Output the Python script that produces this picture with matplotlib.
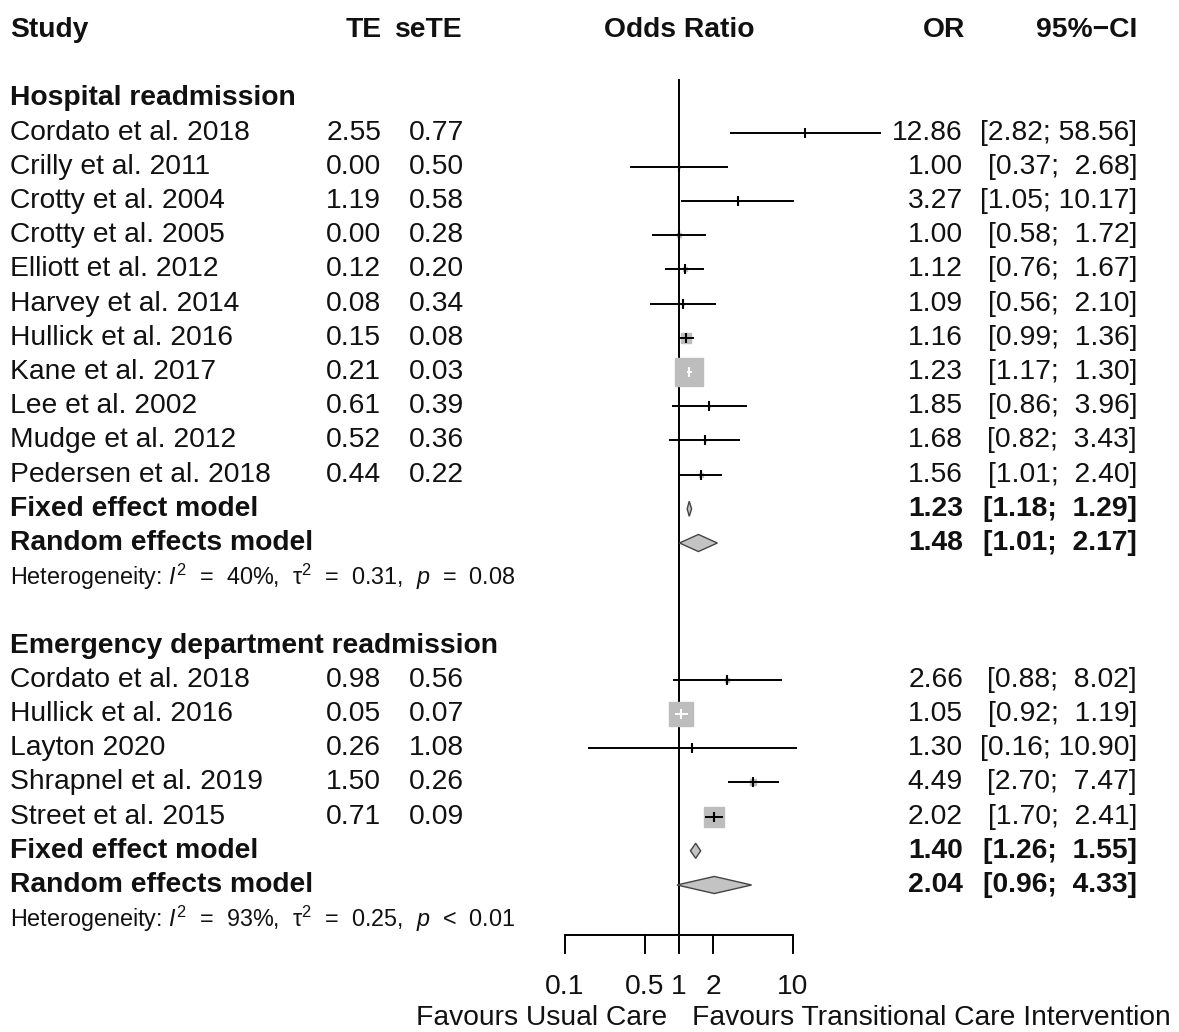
import numpy as np
import matplotlib.pyplot as plt
from matplotlib.transforms import blended_transform_factory
from matplotlib.patches import Polygon

plt.rcParams['font.family'] = ['Liberation Sans', 'DejaVu Sans']
plt.rcParams['mathtext.fontset'] = 'custom'
plt.rcParams['mathtext.rm'] = 'Liberation Sans'
plt.rcParams['mathtext.it'] = 'Liberation Sans:italic'

# ---- data ----
group_names = ["Hospital readmission", "Emergency department readmission"]

hosp_studies = ["Cordato et al. 2018", "Crilly et al. 2011", "Crotty et al. 2004",
                "Crotty et al. 2005", "Elliott et al. 2012", "Harvey et al. 2014",
                "Hullick et al. 2016", "Kane et al. 2017", "Lee et al. 2002",
                "Mudge et al. 2012", "Pedersen et al. 2018"]
hosp_te = [2.55, 0.00, 1.19, 0.00, 0.12, 0.08, 0.15, 0.21, 0.61, 0.52, 0.44]
hosp_se = [0.77, 0.50, 0.58, 0.28, 0.20, 0.34, 0.08, 0.03, 0.39, 0.36, 0.22]
hosp_or = [12.86, 1.00, 3.27, 1.00, 1.12, 1.09, 1.16, 1.23, 1.85, 1.68, 1.56]
hosp_lo = [2.82, 0.37, 1.05, 0.58, 0.76, 0.56, 0.99, 1.17, 0.86, 0.82, 1.01]
hosp_hi = [58.56, 2.68, 10.17, 1.72, 1.67, 2.10, 1.36, 1.30, 3.96, 3.43, 2.40]
hosp_fixed = [1.23, 1.18, 1.29]
hosp_random = [1.48, 1.01, 2.17]
hosp_het = ["40%", "0.31", "=", "0.08"]

ed_studies = ["Cordato et al. 2018", "Hullick et al. 2016", "Layton 2020",
              "Shrapnel et al. 2019", "Street et al. 2015"]
ed_te = [0.98, 0.05, 0.26, 1.50, 0.71]
ed_se = [0.56, 0.07, 1.08, 0.26, 0.09]
ed_or = [2.66, 1.05, 1.30, 4.49, 2.02]
ed_lo = [0.88, 0.92, 0.16, 2.70, 1.70]
ed_hi = [8.02, 1.19, 10.90, 7.47, 2.41]
ed_fixed = [1.40, 1.26, 1.55]
ed_random = [2.04, 0.96, 4.33]
ed_het = ["93%", "0.25", "<", "0.01"]

axis_ticks = [0.1, 0.5, 1, 2, 10]
axis_ticklabels = ["0.1", "0.5", "1", "2", "10"]
label_left = "Favours Usual Care"
label_right = "Favours Transitional Care Intervention"

# ---- layout ----
W, H = 1179, 1032
ROW0, ROWH = 30, 34.2          # pixel y of header row, row height
FS, FS_HET = 20.3, 16.8
PX_PER_DEC = 114
col_study, col_te, col_se, col_or, col_ci = 10, 381, 464, 963, 1137

fig = plt.figure(figsize=(W / 100, H / 100), dpi=100)
ax = fig.add_axes([565 / W, 0, 228 / W, 1])
ax.set_xscale('log')
ax.set_xlim(0.1, 10)
ax.set_ylim((H - ROW0) / ROWH, -ROW0 / ROWH)
ax.axis('off')
tr = blended_transform_factory(fig.transFigure, ax.transData)


def txt(x, row, s, ha='left', bold=False, size=FS):
    ax.text(x / W, row, s, transform=tr, ha=ha, va='center', fontsize=size,
            fontweight='bold' if bold else 'normal', color='#111111')


def ci_text(lo, hi):
    return f"[{lo:.2f}; {hi:5.2f}]"


def diamond(est, lo, hi, row, h):
    poly = Polygon([(lo, row), (est, row - h), (hi, row), (est, row + h)],
                   closed=True, facecolor='#c3c3c3', edgecolor='#444444',
                   lw=1.0, clip_on=False, zorder=3)
    ax.add_patch(poly)


def draw_group(row, name, studies, te, se, ors, lo, hi, fixed, random, het):
    txt(col_study, row, name, bold=True)
    w = 1 / np.array(se) ** 2
    frac = w / w.sum()
    for i, s in enumerate(studies):
        r = row + 1 + i
        txt(col_study, r, s)
        txt(col_te, r, f"{te[i]:.2f}", ha='right')
        txt(col_se, r, f"{se[i]:.2f}", ha='right')
        txt(col_or, r, f"{ors[i]:.2f}", ha='right')
        txt(col_ci, r, ci_text(lo[i], hi[i]), ha='right')
        side = 32 * np.sqrt(frac[i])
        ci_px = PX_PER_DEC * (np.log10(hi[i]) - np.log10(lo[i]))
        inner = 'white' if ci_px < 0.8 * side else 'black'
        ax.plot(ors[i], r, marker='s', ms=side * 0.72, color='#bdbdbd',
                mec='#bdbdbd', clip_on=False, zorder=2)
        ax.plot([lo[i], hi[i]], [r, r], color=inner, lw=1.4,
                solid_capstyle='butt', clip_on=False, zorder=3)
        ax.plot(ors[i], r, marker='|', ms=6.5, mew=1.5, color=inner,
                clip_on=False, zorder=4)
    r = row + 1 + len(studies)
    for label, (est, l, h), hh in [("Fixed effect model", fixed, 0.22),
                                   ("Random effects model", random, 0.25)]:
        txt(col_study, r, label, bold=True)
        txt(col_or, r, f"{est:.2f}", ha='right', bold=True)
        txt(col_ci, r, ci_text(l, h), ha='right', bold=True)
        diamond(est, l, h, r, hh)
        r += 1
    txt(col_study, r, f"Heterogeneity: $I^2$  =  {het[0]},  \u03c4$^2$  =  {het[1]},  "
                      f"$p$  {het[2]}  {het[3]}", size=FS_HET)
    return r


# headers
txt(col_study, 0, "Study", bold=True)
txt(col_te + 1, 0, "TE", ha='right', bold=True)
txt(col_se - 1, 0, "seTE", ha='right', bold=True)
ax.text(1, 0, "Odds Ratio", ha='center', va='center', fontsize=FS,
        fontweight='bold', color='#111111')
txt(col_or + 2, 0, "OR", ha='right', bold=True)
txt(col_ci, 0, "95%\u2212CI", ha='right', bold=True)

last = draw_group(2, group_names[0], hosp_studies, hosp_te, hosp_se, hosp_or,
                  hosp_lo, hosp_hi, hosp_fixed, hosp_random, hosp_het)
last = draw_group(last + 2, group_names[1], ed_studies, ed_te, ed_se, ed_or,
                  ed_lo, ed_hi, ed_fixed, ed_random, ed_het)

# reference line and x axis
axis_row = last + 0.47
ax.plot([1, 1], [1.46, axis_row], color='black', lw=1.4, clip_on=False, zorder=1)
ax.plot([axis_ticks[0], axis_ticks[-1]], [axis_row, axis_row], color='black', lw=1.4,
        clip_on=False)
for t, lab in zip(axis_ticks, axis_ticklabels):
    ax.plot([t, t], [axis_row, axis_row + 0.53], color='black', lw=1.4, clip_on=False)
    ax.text(t, axis_row + 1.52, lab, ha='center', va='center', fontsize=FS,
            color='#111111')
ax.annotate(label_left, (1, axis_row + 2.42), xytext=(-12, 0), textcoords='offset pixels',
            ha='right', va='center', fontsize=FS, color='#111111', annotation_clip=False)
ax.annotate(label_right, (1, axis_row + 2.42), xytext=(13, 0), textcoords='offset pixels',
            ha='left', va='center', fontsize=FS, color='#111111', annotation_clip=False)

fig.savefig("out.png", dpi=100, facecolor='white')
